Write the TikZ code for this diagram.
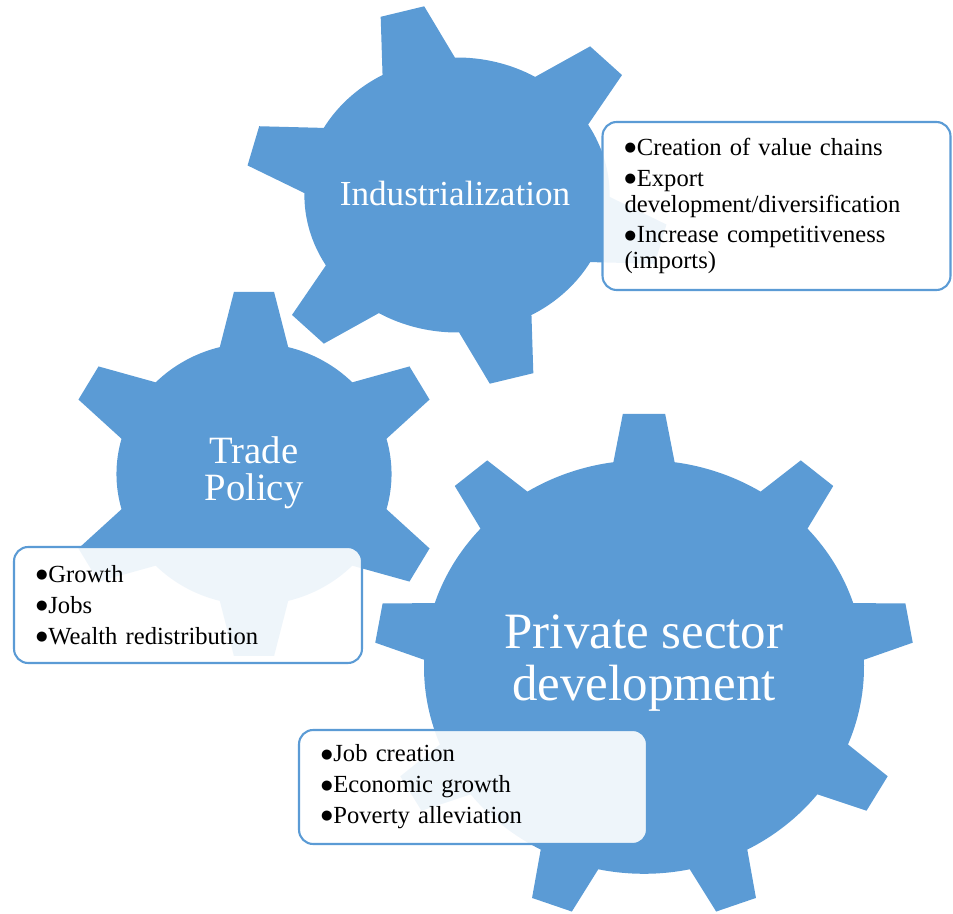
\documentclass[tikz,border=0pt]{standalone}
\usepackage{fontspec}
\setmainfont{Liberation Serif}
\newfontfamily\symfont{DejaVu Sans}
\usetikzlibrary{positioning}

\definecolor{gearblue}{RGB}{91,155,213}

% gear outline: #1 teeth, #2 angle of first tooth, #3 body radius,
% #4 tip radius, #5 half angle at the root, #6 half angle at the tip
\newcommand{\cogpath}[6]{%
  \pgfmathsetmacro\cogstep{360/#1}
  \fill[gearblue] ({#2-#5}:#3)
    \foreach \k in {1,...,#1} {
      -- ({#2+(\k-1)*\cogstep-#6}:#4) -- ({#2+(\k-1)*\cogstep+#6}:#4)
      -- ({#2+(\k-1)*\cogstep+#5}:#3)
      arc[start angle={#2+(\k-1)*\cogstep+#5}, delta angle={\cogstep-2*#5}, radius=#3]
    } -- cycle;}

% list bullet
\newcommand{\itm}{\raisebox{2.2pt}{\symfont\fontsize{7.5}{0}\selectfont ●}\hspace{0.5pt}}

\begin{document}
\begin{tikzpicture}[x=0.02cm,y=0.02cm,
    geartext/.style={text=white,align=center,inner sep=0pt},
    infobox/.style={draw=gearblue,line width=1.2pt,rounded corners=8pt,
      fill=white,fill opacity=0.9,text opacity=1,
      minimum width=6.96cm,text width=6.08cm,inner xsep=0.44cm,
      align=left,font=\fontsize{14}{14.7}\selectfont}]

    \useasboundingbox (0,0) rectangle (953,913);

    \coordinate (g1) at (457,718);
    \coordinate (g2) at (254,439);
    \coordinate (g3) at (644,246);

    % the three gears
    \begin{scope}[shift={(g1)},xscale=1.11]
        \cogpath{6}{45}{137.5}{191}{14.2}{6.1}
    \end{scope}
    \begin{scope}[shift={(g2)},xscale=1.05]
        \cogpath{6}{30}{131}{183}{14.4}{6.0}
    \end{scope}
    \begin{scope}[shift={(g3)},yscale=0.94]
        \cogpath{9}{10}{220}{270}{8.0}{4.5}
    \end{scope}

    \node[geartext,font=\fontsize{20}{21}\selectfont] (indus) at (455,720) {Industrialization};
    \node[geartext,font=\fontsize{22}{21}\selectfont] (trade) at (254,440) {Trade\\Policy};
    \node[geartext,font=\fontsize{29}{30}\selectfont] (private) at (644,250) {Private sector\\development};

    % text boxes
    \node[infobox,minimum height=3.36cm] (indusbox) at (776.5,707)
        {\itm Creation of value chains\\[2.9pt]
         \itm Export\\development/diversification\\[2.9pt]
         \itm Increase competitiveness\\(imports)};
    \node[infobox,minimum height=2.32cm] (tradebox) at (188,308)
        {\itm Growth\\[2.9pt]
         \itm Jobs\\[2.9pt]
         \itm Wealth redistribution};
    \node[infobox,minimum height=2.28cm] (privatebox) at (473,126)
        {\itm Job creation\\[2.9pt]
         \itm Economic growth\\[2.9pt]
         \itm Poverty alleviation};

\end{tikzpicture}
\end{document}
